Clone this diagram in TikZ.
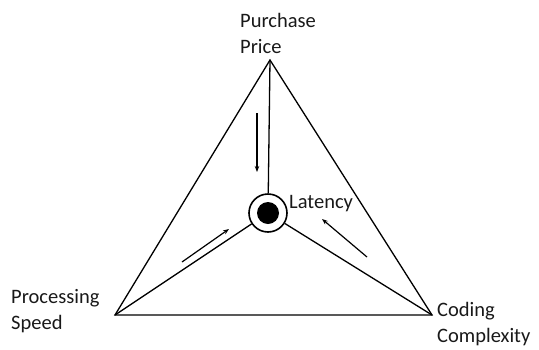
\documentclass[tikz,border=0pt]{standalone}
\usepackage{fontspec}
\setmainfont{Carlito}
\usepackage{tikz}
\usetikzlibrary{arrows.meta}
\tikzset{every node/.style={font=\fontsize{20.5}{26}\selectfont}}
\colorlet{edgecol}{black}
\colorlet{labelcol}{black!90}

\begin{document}
\begin{tikzpicture}[x=1pt, y=-1pt, >={Stealth[length=6pt, width=4.5pt]}]

  % Canvas.
  \useasboundingbox (0,0) rectangle (539,349);

  % Corners of the triangle.
  \coordinate (price) at (270,60);
  \coordinate (speed) at (115,315);
  \coordinate (coding) at (432,315);

  % Target in the middle.
  \node[circle, draw=edgecol, line width=1.6pt, minimum size=38pt, inner sep=0pt]
    (latency) at (268,213) {};
  \node[circle, fill=edgecol, minimum size=22pt, inner sep=0pt] (dot) at (latency) {};

  % Triangle.
  \draw[line width=1.3pt, edgecol] (price) -- (speed) -- (coding) -- cycle;

  % Spokes to the centre.
  \draw[line width=1.3pt, edgecol] (price) -- (latency);
  \draw[line width=1.3pt, edgecol] (speed) -- (latency);
  \draw[line width=1.3pt, edgecol] (coding) -- (latency);

  % Arrows pointing in.
  \coordinate (a1) at (257,113);
  \coordinate (b1) at (257,172);
  \coordinate (a2) at (182,262);
  \coordinate (b2) at (229,229);
  \coordinate (a3) at (367,257);
  \coordinate (b3) at (322,219);
  \draw[->, line width=1.2pt] (a1) -- (b1);
  \draw[->, line width=1.2pt] (a2) -- (b2);
  \draw[->, line width=1.2pt] (a3) -- (b3);

  % Labels (base = last line).
  \node[anchor=base west, align=left, inner sep=0pt, text=labelcol] (pricelbl)
    at (240,53) {Purchase\\Price};
  \node[anchor=base west, inner sep=0pt, text=labelcol] (latencylbl)
    at (289,208) {Latency};
  \node[anchor=base west, align=left, inner sep=0pt, text=labelcol] (speedlbl)
    at (11,329) {Processing\\Speed};
  \node[anchor=base west, align=left, inner sep=0pt, text=labelcol] (codinglbl)
    at (437,342) {Coding\\Complexity};

\end{tikzpicture}
\end{document}
